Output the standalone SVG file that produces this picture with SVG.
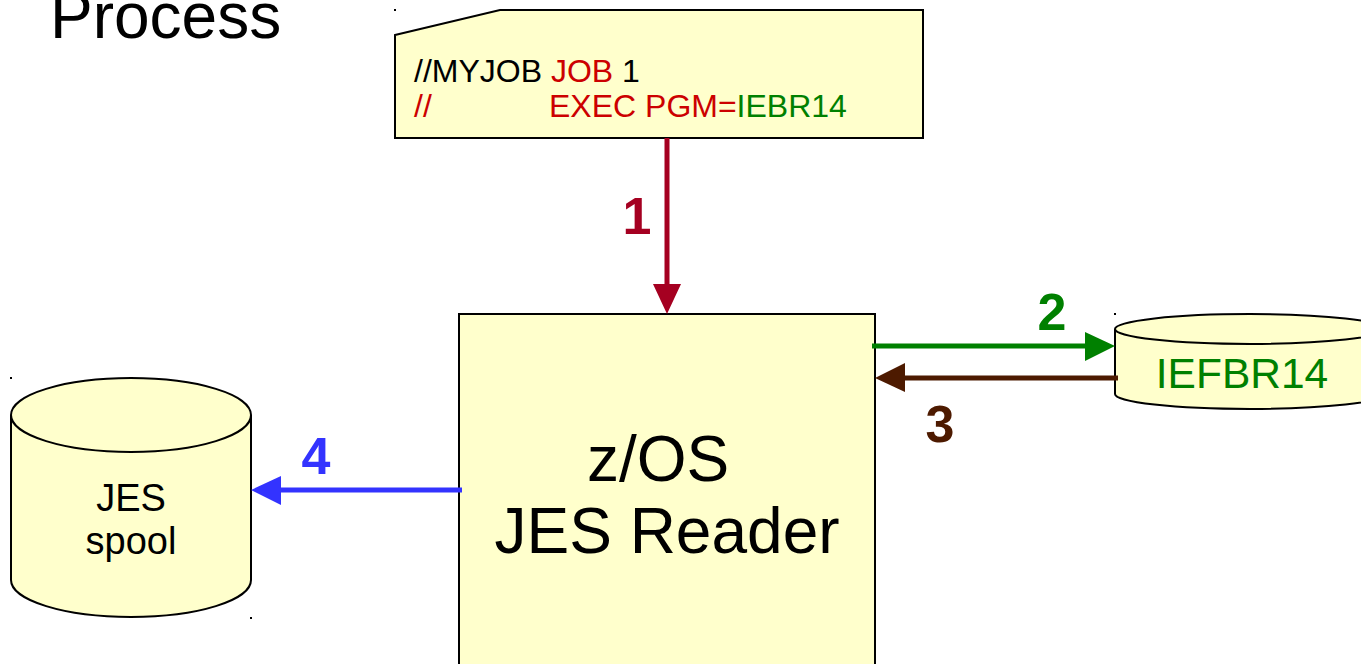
<svg xmlns="http://www.w3.org/2000/svg" width="1361" height="664" viewBox="0 0 1361 664">
<style>
text{font-family:"Liberation Sans",Arial,sans-serif}
.shape{fill:#ffffcc;stroke:#000;stroke-width:2}
.num{font-weight:bold;font-size:52px;text-anchor:middle}
.dot{fill:#000}
</style>
<rect width="1361" height="664" fill="#fff"/>
<text x="50" y="38" font-size="64">Process</text>

<g id="jcl">
<path class="shape" d="M395,35 L500,10 L923,10 L923,138 L395,138 Z"/>
<rect class="dot" x="394" y="9" width="2" height="2"/>
<text x="414" y="82" font-size="32"><tspan fill="#000">//MYJOB </tspan><tspan fill="#cc0000">JOB</tspan><tspan fill="#000"> 1</tspan></text>
<text x="414" y="117" font-size="32" fill="#cc0000">//</text>
<text x="549" y="117" font-size="32"><tspan fill="#cc0000">EXEC PGM=</tspan><tspan fill="#008000">IEBR14</tspan></text>
</g>

<g id="reader">
<rect class="shape" x="459" y="314" width="416" height="360"/>
<text x="658" y="481" font-size="64" text-anchor="middle">z/OS</text>
<text x="667" y="553" font-size="64" text-anchor="middle">JES Reader</text>
</g>

<g id="spool">
<path class="shape" d="M11,415 L11,580 A120,37 0 0 0 251,580 L251,415 A120,37 0 0 0 11,415 Z"/>
<path fill="none" stroke="#000" stroke-width="2" d="M11,415 A120,37 0 0 0 251,415"/>
<rect class="dot" x="10" y="377" width="2" height="2"/>
<rect class="dot" x="250" y="617" width="2" height="2"/>
<text x="131" y="511" font-size="38" text-anchor="middle">JES</text>
<text x="131" y="554" font-size="38" text-anchor="middle">spool</text>
</g>

<g id="iefbr14">
<path class="shape" d="M1115,329 L1115,394 A135,15 0 0 0 1385,394 L1385,329 A135,15 0 0 0 1115,329 Z"/>
<path fill="none" stroke="#000" stroke-width="2" d="M1115,329 A135,15 0 0 0 1385,329"/>
<rect class="dot" x="1114" y="313" width="2" height="2"/>
<text x="1242" y="388" font-size="42.5" text-anchor="middle" fill="#008000">IEFBR14</text>
</g>

<g id="connectors">
<line x1="667" y1="138" x2="667" y2="286" stroke="#a50021" stroke-width="5"/>
<path d="M653,284 L681,284 L667,314 Z" fill="#a50021"/>
<text class="num" x="637" y="234" fill="#a50021">1</text>

<line x1="872" y1="346" x2="1087" y2="346" stroke="#008000" stroke-width="5"/>
<path d="M1085,332 L1115,346 L1085,361 Z" fill="#008000"/>
<text class="num" x="1052" y="330" fill="#008000">2</text>

<line x1="1118" y1="378" x2="903" y2="378" stroke="#4d1a00" stroke-width="5"/>
<path d="M905,363 L875,378 L905,392 Z" fill="#4d1a00"/>
<text class="num" x="940" y="442" fill="#4d1a00">3</text>

<line x1="462" y1="490" x2="279" y2="490" stroke="#3333ff" stroke-width="5"/>
<path d="M281,476 L251,490 L281,505 Z" fill="#3333ff"/>
<text class="num" x="316" y="474" fill="#3333ff">4</text>
</g>
</svg>
